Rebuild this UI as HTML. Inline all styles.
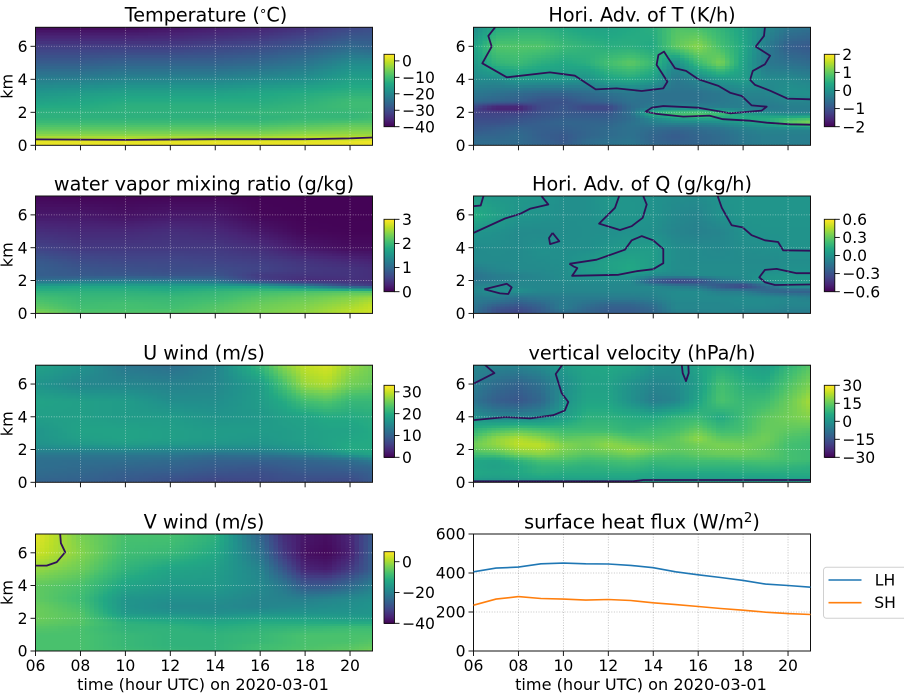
<!DOCTYPE html>
<html lang="en">
<head>
<meta charset="utf-8">
<title>Time-height panels</title>
<style>
html,body{margin:0;padding:0;background:#fff;}
svg{display:block;font-family:"DejaVu Sans","Liberation Sans",sans-serif;}
text{fill:#000;}
</style>
</head>
<body>
<svg id="figure" xmlns="http://www.w3.org/2000/svg" width="904" height="696" viewBox="0 0 904 696"></svg>
<script>
// ---------- data ----------
const hoursCoarse = [6,8,10,12,14,16,18,20,21];
const hoursWind = [6,8,10,12,14,16,17,18,19,20,21];
const hoursFine = [6,7,8,9,10,11,12,13,14,15,16,17,18,19,20,21];
const levelsKm = [0,0.3,0.6,1,1.4,1.7,2,2.3,2.7,3.2,4,5,6,7.2];
const xTickHours = [6,8,10,12,14,16,18,20];
const xTickLabels = ['06','08','10','12','14','16','18','20'];
const kmTicks = [0,2,4,6];

const temperatureValues = [
[3,3,3,3,3,3,3,3,3],
[2,2,2,2,2,2,2,2,3],
[-3,-3,-3,-3,-3,-3,-2,-2,-2],
[-7,-7,-7,-7,-7,-7,-6,-5,-5],
[-10,-10,-10,-10,-10,-10,-9,-8,-8],
[-12,-12,-12,-12,-12,-12,-11,-11,-10],
[-12,-12,-12,-12,-12,-11,-11,-11,-10],
[-13,-13,-12,-12,-12,-12,-11,-10,-10],
[-15,-14,-13,-13,-13,-13,-12,-10,-10],
[-17,-16,-15,-15,-15,-14,-13,-12,-12],
[-21,-21,-20,-20,-20,-19,-18,-15,-15],
[-27,-27,-26,-26,-26,-25,-23,-19,-19],
[-32,-32,-32,-32,-31,-30,-28,-25,-26],
[-39,-39,-39,-38,-37,-36,-34,-31,-30]];

const mixingRatioValues = [
[2.5,2.2,2.2,2.2,2.25,2.4,2.5,2.7,2.8],
[2.3,2.1,2.1,2.1,2.2,2.35,2.45,2.65,2.75],
[2.2,2.05,2.1,2.05,2.15,2.3,2.4,2.55,2.7],
[2.1,2.0,2.0,2.0,2.05,2.2,2.3,2.45,2.55],
[1.9,1.9,1.9,1.85,1.95,2.05,2.1,2.15,2.1],
[1.7,1.75,1.75,1.7,1.7,1.65,1.3,0.7,0.55],
[1.1,1.2,1.25,1.2,1.1,0.6,0.35,0.4,0.4],
[0.9,0.85,0.85,0.8,0.8,0.5,0.45,0.45,0.4],
[0.9,0.8,0.75,0.7,0.7,0.6,0.5,0.45,0.4],
[0.85,0.7,0.65,0.65,0.6,0.55,0.45,0.35,0.3],
[0.6,0.5,0.5,0.5,0.5,0.4,0.2,0.1,0.1],
[0.4,0.35,0.35,0.4,0.35,0.2,0.05,0.03,0.03],
[0.2,0.2,0.15,0.2,0.2,0.05,0.02,0.02,0.02],
[0.05,0.03,0.03,0.03,0.03,0.02,0.02,0.02,0.02]];

const uWindValues = [
[10,10,9,8,6.5,7,7.5,8,7.5,7,9],
[11,10.5,9.5,8.5,7.5,7.5,8,8,8,8,9.5],
[11.5,11,10,9.5,8.5,8,8.5,9,9,9,10],
[12,11.5,11,10.5,9.5,9,9.5,10,10,10.5,11],
[12,12,12,11.5,10.5,10.5,10.5,11,11.5,12,14],
[13,13,13,13,12,12.5,13,14,15,17,19],
[15,15,15.5,15,15,15,16,17,18,20,20],
[16.5,17.5,18,17.5,17,17,17.5,18,19,20,20],
[17,18.5,19,18.5,18,17.5,18,18.5,19,19.5,20],
[17,19,19,18.5,18,18,18,18.5,19,19,20],
[18.5,18.5,18,18,17,17.5,18.5,19,20,20,20.5],
[19,18.5,18,16,16,18,20,23,24,22,22],
[17,15,15,14.5,15,18,23,28,29,26,25],
[19,17,13,12,14.5,22,27,30,31,28,26]];

const vWindValues = [
[-7,-7,-8,-9,-10,-8,-7,-6,-5.5,-5,-3],
[-7,-7,-9,-10,-10,-8,-7.5,-7,-6.5,-6,-5],
[-7,-7,-9,-10,-10,-9,-8,-7,-7,-7,-6],
[-7,-7,-9,-10,-10,-9,-8,-7,-7,-7,-7],
[-6,-7,-10,-10,-11,-10,-9.5,-9,-8.5,-8,-8],
[-5,-6,-10,-11,-12,-11,-11,-11,-11,-11,-11],
[-4,-6,-12,-13,-14,-13,-13,-13,-13.5,-14,-14],
[-4,-6,-15,-16,-17,-16,-16,-16,-16,-16,-16],
[-4,-7,-16,-18,-18,-19,-18.5,-18,-17.5,-17,-16],
[-5,-8,-16,-17,-17,-19,-19.5,-20,-19,-18,-17],
[-5,-7,-13,-15,-15,-18,-21,-27,-27,-24,-20],
[-1,-4,-10,-13,-14,-19,-27,-35,-36,-32,-26],
[3,-2,-8,-9,-12,-22,-32,-38,-39,-36,-26],
[5,-3,-7,-7,-10,-25,-34,-37,-38,-35,-27]];

const advTValues = [
[-0.6,-0.6,-0.6,-0.7,-0.8,-0.6,-0.5,-0.4,-0.6,-0.7,-0.7,-0.6,-0.4,-0.3,-0.3,-0.3],
[-0.6,-0.6,-0.6,-0.75,-0.9,-0.6,-0.5,-0.45,-0.7,-0.8,-0.7,-0.6,-0.4,-0.3,-0.3,-0.3],
[-0.7,-0.7,-0.6,-0.8,-0.9,-0.7,-0.6,-0.5,-0.7,-0.85,-0.7,-0.6,-0.4,-0.3,-0.3,-0.3],
[-0.9,-0.8,-0.7,-0.8,-0.8,-0.7,-0.6,-0.5,-0.6,-0.7,-0.6,-0.5,-0.3,-0.2,-0.2,-0.2],
[-1,-1,-0.9,-0.8,-0.7,-0.7,-0.7,-0.5,-0.3,-0.2,-0.2,-0.1,0.1,0.3,1,1.3],
[-1.1,-1.1,-1.0,-0.9,-0.8,-0.8,-0.8,-0.6,-0.1,0.3,0.4,0.4,0.5,0.5,0.6,0.7],
[-1.2,-1.2,-1.2,-1,-0.9,-0.9,-0.9,-0.5,0.7,0.9,1,0.8,0.2,-0.1,-0.3,-0.3],
[-1.2,-1.7,-1.7,-1.1,-0.9,-1.2,-1.2,-0.6,-0.3,-0.2,-0.2,-0.3,-0.3,-0.4,-0.3,-0.3],
[-0.6,-0.7,-0.8,-1,-1,-0.8,-0.7,-0.5,-0.5,-0.5,-0.5,-0.4,-0.3,-0.3,-0.2,-0.2],
[-0.4,-0.5,-0.6,-0.7,-0.7,-0.6,-0.5,-0.4,-0.5,-0.5,-0.5,-0.4,-0.2,-0.2,0,0],
[-0.1,-0.1,0.1,0.1,0.1,0,0.3,0.4,0.2,-0.4,-0.2,0.1,0.2,-0.1,-0.1,-0.2],
[0.1,0.6,0.7,0.5,0.4,0.5,0.8,1,0.7,-0.1,0.7,1.2,0.3,-0.4,-0.5,-0.6],
[0.3,0.9,0.9,0.9,0.7,0.6,0.5,0.5,0.4,1.0,1.3,0.8,0.4,-0.3,-0.8,-0.9],
[-0.1,0.4,0.5,0.5,0.4,0.3,0.3,0.4,0.5,0.9,0.8,0.6,0.3,-0.1,-0.4,-0.5]];

const advQValues = [
[-0.15,-0.3,-0.35,-0.25,-0.2,-0.2,-0.25,-0.25,-0.2,-0.1,-0.1,-0.05,-0.1,-0.1,-0.1,-0.1],
[-0.15,-0.3,-0.33,-0.25,-0.1,-0.2,-0.25,-0.25,-0.2,-0.05,-0.05,-0.05,-0.05,-0.05,-0.08,-0.08],
[-0.12,-0.2,-0.25,-0.2,-0.1,-0.15,-0.2,-0.2,-0.15,-0.05,-0.05,-0.05,-0.03,-0.03,-0.05,-0.05],
[-0.1,-0.1,-0.15,-0.12,-0.1,-0.1,-0.1,-0.1,-0.08,-0.03,-0.03,-0.03,-0.03,-0.03,-0.05,-0.08],
[-0.05,0,0,-0.05,-0.05,-0.05,-0.05,-0.05,-0.05,-0.03,-0.03,-0.1,-0.1,-0.2,-0.25,-0.25],
[-0.08,-0.03,-0.05,-0.05,-0.05,-0.05,-0.05,-0.05,-0.05,-0.1,-0.15,-0.3,-0.4,-0.2,0.03,0.03],
[-0.12,-0.1,-0.05,-0.05,-0.03,-0.03,-0.03,-0.03,-0.3,-0.4,-0.35,-0.15,-0.05,0.03,0.03,0.03],
[-0.15,-0.1,-0.08,-0.05,-0.02,0.02,0.02,0.02,-0.05,-0.05,-0.03,-0.03,-0.03,0.02,0.03,0.03],
[-0.1,-0.05,-0.03,-0.03,-0.02,0.05,0.08,0.12,0.05,-0.02,-0.02,-0.02,-0.02,-0.02,0,0],
[-0.03,-0.03,-0.03,-0.02,-0.01,0.03,0.08,0.1,0.06,-0.02,-0.03,-0.03,-0.03,-0.03,-0.02,-0.02],
[-0.03,-0.02,-0.03,0,-0.01,-0.01,0.02,0.05,0.06,-0.02,-0.03,-0.04,-0.02,-0.01,0.01,0.01],
[0.02,0,-0.03,-0.03,-0.02,-0.01,-0.01,0,-0.01,-0.06,-0.08,-0.06,0,0.01,0.01,0.01],
[0.15,0.08,0.02,0.01,-0.01,-0.01,0.02,0.02,0.01,-0.04,-0.06,0,0.02,0.02,0.02,0.02],
[0.05,0.03,0.03,0.02,-0.01,-0.01,0.03,0.02,0,-0.02,-0.02,0.01,0.02,0.02,0.02,0.02]];

const verticalVelocityValues = [
[0,0,0,0,0,1,1,1,1,1,1,1,1,1,1,1],
[4,3,4,5,5,5,5,5,4,4,4,4,4,4,5,5],
[6,5,6,8,7,7,7,7,6,6,6,6,7,7,7,7],
[5,4,6,9,9,8,9,10,8,9,9,9,9,10,9,8],
[6,5,9,13,13,11,12,13,11,11,12,12,13,13,12,11],
[11,12,17,19,16,14,15,17,14,13,15,16,16,15,12,11],
[15,17,21,22,18,16,18,20,17,15,16,17,17,15,12,11],
[17,20,24,24,19,17,20,18,16,15,17,18,17,16,12,11],
[14,20,23,20,15,16,17,14,13,15,20,15,15,17,13,12],
[9,13,15,13,11,11,11,9,11,12,16,11,12,16,15,14],
[0,-3,-3,-2,3,8,8,7,6,9,10,6,11,15,17,19],
[-7,-12,-14,-10,0,5,5,0,-5,-3,5,13,10,11,16,22],
[-5,-9,-11,-8,-1,4,4,0,-3,-2,3,12,8,7,13,18],
[-3,-3,-3,-1,3,5,6,5,1,0,5,7,5,3,9,14]];

// zero contours as [hour, km] readings
const temperatureContours = [
[[6,0.36],[10,0.33],[14,0.37],[18,0.37],[20,0.42],[21,0.47]]];
const advTContours = [
[[6.96,7.15],[6.66,6.63],[6.81,5.98],[6.39,4.97],[7.48,4.12],[9.4,4.42],[10.52,4.22],[11.44,3.39],[12.37,3.45],[13.49,3.29],[14.45,3.45],[14.63,3.86],[14.15,4.87],[14.23,5.47],[14.48,5.68],[14.67,5.27],[14.97,4.67],[15.46,4.51],[16.01,4],[16.9,3.6],[17.42,3.19],[17.94,2.99],[18.38,2.42],[19.05,2.34],[18.83,2.1],[17.42,1.94],[16.01,2.28],[14.45,2.38],[13.93,2.28],[13.66,2.04],[14.15,1.9],[15.34,1.74],[16.5,1.8],[17.1,1.58],[18.3,1.49],[19.05,1.37],[20.09,1.27],[20.98,1.25]],
[[18.97,7.15],[18.93,6.63],[18.56,5.98],[19.2,5.43],[18.97,4.91],[18.43,4.51],[18.31,3.96],[18.53,3.66],[19.2,3.31],[19.97,2.83],[20.98,2.79]]];
const advQContours = [
[[6,6.53],[6.32,6.57],[6.44,7.14]],
[[6,4.9],[7.4,5.78],[8.07,6.06],[8.51,6.37],[9.33,6.63],[9.03,7.14]],
[[9.52,4.9],[9.82,4.39],[9.41,4.22],[9.36,4.59],[9.52,4.9]],
[[6.48,1.47],[7.48,1.8],[7.7,1.59],[7.55,1.18],[7.18,1.22],[6.48,1.47]],
[[12.48,7.14],[12.3,6.43],[11.59,5.47],[12.52,5.08],[13.04,5.31],[13.53,5.82],[13.71,6.63],[13.56,7.14]],
[[10.27,3.02],[11.48,3.27],[12.74,3.88],[13.04,4.45],[13.49,4.71],[14,4.45],[14.45,3.92],[14.45,3.06],[14,2.69],[13.26,2.57],[12.45,2.35],[10.39,2.29],[10.49,2.49],[10.62,2.76],[10.45,2.86],[10.27,3.02]],
[[16.87,7.14],[17.05,6.43],[17.49,5.37],[17.98,5.24],[18.38,4.76],[18.97,4.45],[19.56,4.35],[19.78,3.84],[20.98,3.82]],
[[20.98,2.45],[20.38,2.45],[19.49,2.71],[18.97,2.65],[18.72,2.2],[18.97,1.9],[19.42,1.73],[20.98,1.76]]];
const verticalVelocityContours = [
[[6,6.02],[6.93,6.67],[6.51,7.16]],
[[6,3.8],[7.4,3.98],[8.52,3.9],[9.55,4.1],[10.07,4.39],[10.22,4.9],[9.92,5.45],[9.66,6.61],[9.95,7.16]],
[[15.27,7.16],[15.31,6.67],[15.46,6.18],[15.58,6.67],[15.56,7.16]],
[[6,0.06],[13.11,0.06],[13.56,0.14],[20.98,0.14]]];
const vWindContours = [
[[6,5.22],[6.5,5.22],[6.95,5.43],[7.32,6.04],[7.13,6.59],[7.1,7.14]]];
const noContours = [];

const temperatureTicks = [-40,-30,-20,-10,0];
const mixingRatioTicks = [0,1,2,3];
const uWindTicks = [0,10,20,30];
const vWindTicks = [-40,-20,0];
const advTTicks = [-2,-1,0,1,2];
const advQTicks = [-0.6,-0.3,0,0.3,0.6];
const verticalVelocityTicks = [-30,-15,0,15,30];

const latentHeatFlux = [406,425,430,447,451,447,446,439,427,406,391,377,362,343,336,327];
const sensibleHeatFlux = [235,266,279,269,266,261,264,259,247,238,228,218,209,199,192,187];
const fluxTicks = [0,200,400,600];

// ---------- layout ----------
const svg = document.getElementById('figure');
const NS = 'http://www.w3.org/2000/svg';
const colLeft = [35.5, 473.5];
const axWidth = 337;
const rowTop = [27.3, 196, 365.2, 534];
const rowBottom = [145.3, 313.4, 482.3, 651];
const cbarTop = [54.3, 219.3, 385.3, 551.7];
const cbarBottom = [126.7, 291.7, 457.3, 623.3];
const cbarLeft = [384, 824.3];
const cbarWidth = 10.5;
const TICK_FONT = 15.6, AXIS_FONT = 16.1, TITLE_FONT = 19.2;
const T_MIN = 6, T_MAX = 21, KM_MAX = 7.15;

const stops = [[68,1,84],[72,36,117],[65,68,135],[53,95,141],[42,120,142],[33,145,140],[34,168,132],[68,191,112],[122,209,81],[189,223,38],[253,231,37]];
function viridis(f){
  f = Math.max(0, Math.min(1, f));
  const p = f * 10, i = Math.min(9, Math.floor(p)), t = p - i;
  const a = stops[i], b = stops[i + 1];
  return 'rgb(' + [0,1,2].map(k => Math.round(a[k] + (b[k] - a[k]) * t)).join(',') + ')';
}
function el(parent, tag, attrs){
  const e = document.createElementNS(NS, tag);
  for (const k in attrs) e.setAttribute(k, attrs[k]);
  parent.appendChild(e);
  return e;
}
function label(parent, x, y, str, size, anchor, name){
  const t = el(parent, 'text', {x: x, y: y, 'font-size': size, 'text-anchor': anchor});
  
  
  t.textContent = str;
  return t;
}
function fmtTick(v, decimals){
  const s = Math.abs(v).toFixed(decimals);
  return v < 0 ? '\u2212' + s : s;
}
function drawAxesFrame(g, col, row, xs, ys, yTicks, yLabels, gridColor, gridOpacity, gridDash){
  const L = colLeft[col], R = L + axWidth, T = rowTop[row], B = rowBottom[row];
  xTickHours.forEach((h, i) => {
    const gl = el(g, 'line', {x1: xs(h), x2: xs(h), y1: T, y2: B, stroke: gridColor, 'stroke-width': 0.8, 'stroke-dasharray': gridDash, opacity: gridOpacity});
    
    
    const tk = el(g, 'line', {x1: xs(h), x2: xs(h), y1: B, y2: B + 5, stroke: '#000', 'stroke-width': 0.9});
    
    
    if (row === 3) label(g, xs(h), B + 20, xTickLabels[i], TICK_FONT, 'middle', 'x-tick-label');
  });
  yTicks.forEach((v, i) => {
    const gl = el(g, 'line', {x1: L, x2: R, y1: ys(v), y2: ys(v), stroke: gridColor, 'stroke-width': 0.8, 'stroke-dasharray': gridDash, opacity: gridOpacity});
    
    
    const tk = el(g, 'line', {x1: L - 5, x2: L, y1: ys(v), y2: ys(v), stroke: '#000', 'stroke-width': 0.9});
    
    
    label(g, L - 8, ys(v) + 5.6, yLabels[i], TICK_FONT, 'end', 'y-tick-label');
  });
  const fr = el(g, 'rect', {x: L, y: T, width: axWidth, height: B - T, fill: 'none', stroke: '#111', 'stroke-width': 1});
  
  
  if (row === 3) label(g, L + axWidth / 2 - 1, 690, 'time (hour UTC) on 2020-03-01', AXIS_FONT, 'middle', 'x-axis-title');
}
function drawHeatPanel(name, col, row, title, hours, values, vMin, vMax, cbTicks, cbDecimals, contours){
  const g = el(svg, 'g', {});
  
  
  const L = colLeft[col], T = rowTop[row], B = rowBottom[row];
  const xs = h => L + (h - T_MIN) / (T_MAX - T_MIN) * axWidth;
  const ys = km => B - km / KM_MAX * (B - T);
  const cs = v => viridis((v - vMin) / (vMax - vMin));
  const clipId = 'clip-' + name;
  const defs = el(g, 'defs', {});
  const cp = el(defs, 'clipPath', {id: clipId});
  el(cp, 'rect', {x: L, y: T, width: axWidth, height: B - T});
  const field = el(g, 'g', {'clip-path': 'url(#' + clipId + ')', 'shape-rendering': 'crispEdges'});
  
  
  for (let j = 0; j < levelsKm.length - 1; j++){
    const y0 = ys(levelsKm[j]), y1 = ys(levelsKm[j + 1]);
    const ny = Math.max(1, Math.ceil((y0 - y1) / 3));
    for (let i = 0; i < hours.length - 1; i++){
      const x0 = xs(hours[i]), x1 = xs(hours[i + 1]);
      const nx = Math.max(1, Math.ceil((x1 - x0) / 4.5));
      for (let a = 0; a < nx; a++){
        for (let b = 0; b < ny; b++){
          const u = (a + 0.5) / nx, w = (b + 0.5) / ny;
          const v = (1 - w) * ((1 - u) * values[j][i] + u * values[j][i + 1]) + w * ((1 - u) * values[j + 1][i] + u * values[j + 1][i + 1]);
          const r = el(field, 'rect', {
            x: (x0 + (x1 - x0) * a / nx).toFixed(2),
            y: (y0 + (y1 - y0) * (b + 1) / ny).toFixed(2),
            width: ((x1 - x0) / nx + 0.6).toFixed(2),
            height: ((y0 - y1) / ny + 0.6).toFixed(2),
            fill: cs(v)
          });
          
          
        }
      }
    }
  }
  const cg = el(g, 'g', {'clip-path': 'url(#' + clipId + ')'});
  
  
  contours.forEach(c => {
    const p = el(cg, 'polyline', {points: c.map(q => xs(q[0]).toFixed(1) + ',' + ys(q[1]).toFixed(1)).join(' '), fill: 'none', stroke: '#2f1058', 'stroke-width': 1.8, 'stroke-linejoin': 'round'});
    
    
  });
  drawAxesFrame(g, col, row, xs, ys, kmTicks, kmTicks.map(String), '#fff', 0.5, '1 1.6');
  const titleEl = label(g, L + axWidth / 2, T - 5.6, '', TITLE_FONT, 'middle', 'panel-title');
  if (Array.isArray(title)){
    titleEl.setAttribute('x', L + axWidth / 2 + 2);
    titleEl.appendChild(document.createTextNode(title[0]));
    const deg = el(titleEl, 'tspan', {'font-size': 13, dy: -2.5});
    deg.textContent = title[1];
    const rest = el(titleEl, 'tspan', {dy: 2.5});
    rest.textContent = title[2];
  } else {
    titleEl.textContent = title;
  }
  if (col === 0){
    const cy = (T + B) / 2;
    const kl = label(g, 12.5, cy, 'km', AXIS_FONT, 'middle', 'y-axis-title');
    kl.setAttribute('transform', 'rotate(-90 12.5 ' + cy + ')');
  }
  // colorbar
  const cbL = cbarLeft[col], cbT = cbarTop[row], cbB = cbarBottom[row];
  const cby = v => cbB - (v - vMin) / (vMax - vMin) * (cbB - cbT);
  const cb = el(g, 'g', {'shape-rendering': 'crispEdges'});
  
  
  const steps = 72;
  for (let s = 0; s < steps; s++){
    const v = vMin + (vMax - vMin) * (s + 0.5) / steps;
    const sr = el(cb, 'rect', {x: cbL, y: (cby(vMin + (vMax - vMin) * (s + 1) / steps)).toFixed(2), width: cbarWidth, height: ((cbB - cbT) / steps + 0.5).toFixed(2), fill: cs(v)});
    
    
  }
  const cbf = el(g, 'rect', {x: cbL, y: cbT, width: cbarWidth, height: cbB - cbT, fill: 'none', stroke: '#111', 'stroke-width': 0.9});
  
  
  cbTicks.forEach(v => {
    const tk = el(g, 'line', {x1: cbL + cbarWidth, x2: cbL + cbarWidth + 5, y1: cby(v), y2: cby(v), stroke: '#000', 'stroke-width': 0.9});
    
    
    label(g, cbL + cbarWidth + 7.5, cby(v) + 5.6, fmtTick(v, cbDecimals), TICK_FONT, 'start', 'colorbar-tick-label');
  });
}
function drawFluxPanel(){
  const col = 1, row = 3;
  const g = el(svg, 'g', {});
  
  
  const L = colLeft[col], T = rowTop[row], B = rowBottom[row];
  const xs = h => L + (h - T_MIN) / (T_MAX - T_MIN) * axWidth;
  const ys = v => B - v / 600 * (B - T);
  drawAxesFrame(g, col, row, xs, ys, fluxTicks, fluxTicks.map(String), '#777', 0.55, '1 1.6');
  const lh = el(g, 'polyline', {points: hoursFine.map((h, i) => xs(h).toFixed(1) + ',' + ys(latentHeatFlux[i]).toFixed(1)).join(' '), fill: 'none', stroke: '#1f77b4', 'stroke-width': 1.6});
  
  
  const sh = el(g, 'polyline', {points: hoursFine.map((h, i) => xs(h).toFixed(1) + ',' + ys(sensibleHeatFlux[i]).toFixed(1)).join(' '), fill: 'none', stroke: '#ff7f0e', 'stroke-width': 1.6});
  
  
  const title = el(g, 'text', {x: L + axWidth / 2, y: T - 5.6, 'font-size': TITLE_FONT, 'text-anchor': 'middle'});
  
  
  title.appendChild(document.createTextNode('surface heat flux (W/m'));
  const sup = el(title, 'tspan', {dy: -6.5, 'font-size': 13.4});
  sup.textContent = '2';
  const close = el(title, 'tspan', {dy: 6.5});
  close.textContent = ')';
  const leg = el(g, 'g', {});
  
  
  const box = el(leg, 'rect', {x: 823.5, y: 567.3, width: 84, height: 51, rx: 3, fill: '#fff', stroke: '#d0d0d0', 'stroke-width': 1});
  
  
  const h1 = el(leg, 'line', {x1: 828.5, x2: 861.5, y1: 580, y2: 580, stroke: '#1f77b4', 'stroke-width': 1.6});
  
  
  label(leg, 885, 585.5, 'LH', TICK_FONT, 'middle', 'legend-entry-lh');
  const h2 = el(leg, 'line', {x1: 828.5, x2: 861.5, y1: 602.7, y2: 602.7, stroke: '#ff7f0e', 'stroke-width': 1.6});
  
  
  label(leg, 885, 608.2, 'SH', TICK_FONT, 'middle', 'legend-entry-sh');
}

drawHeatPanel('temperature', 0, 0, ['Temperature (', '\u00B0', 'C)'], hoursCoarse, temperatureValues, -40, 4, temperatureTicks, 0, temperatureContours);
drawHeatPanel('mixing-ratio', 0, 1, 'water vapor mixing ratio (g/kg)', hoursCoarse, mixingRatioValues, 0, 3, mixingRatioTicks, 0, noContours);
drawHeatPanel('u-wind', 0, 2, 'U wind (m/s)', hoursWind, uWindValues, 0, 33, uWindTicks, 0, noContours);
drawHeatPanel('v-wind', 0, 3, 'V wind (m/s)', hoursWind, vWindValues, -40, 6.5, vWindTicks, 0, vWindContours);
drawHeatPanel('adv-t', 1, 0, 'Hori. Adv. of T (K/h)', hoursFine, advTValues, -2, 2, advTTicks, 0, advTContours);
drawHeatPanel('adv-q', 1, 1, 'Hori. Adv. of Q (g/kg/h)', hoursFine, advQValues, -0.6, 0.6, advQTicks, 1, advQContours);
drawHeatPanel('vertical-velocity', 1, 2, 'vertical velocity (hPa/h)', hoursFine, verticalVelocityValues, -30, 30, verticalVelocityTicks, 0, verticalVelocityContours);
drawFluxPanel();
</script>
</body>
</html>
